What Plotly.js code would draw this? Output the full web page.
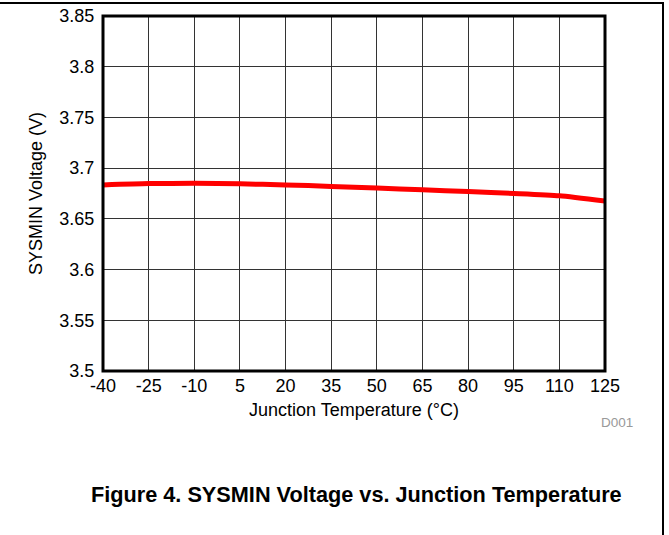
<!DOCTYPE html>
<html>
<head>
<meta charset="utf-8">
<script src="https://cdn.plot.ly/plotly-3.0.1.min.js"></script>
<style>
html,body{margin:0;padding:0;background:#fff;}
#chart{width:669px;height:535px;}
</style>
</head>
<body>
<div id="chart"></div>
<script>
var temperature = [-40, -25, -10, 5, 20, 35, 50, 65, 80, 95, 110, 125];
var sysminVoltage = [3.6835, 3.6848, 3.6850, 3.6845, 3.6835, 3.6820, 3.6803, 3.6786, 3.6769, 3.6751, 3.6728, 3.6675];
var xTicks = [-40, -25, -10, 5, 20, 35, 50, 65, 80, 95, 110, 125];
var xTickLabels = ['-40', '-25', '-10', '5', '20', '35', '50', '65', '80', '95', '110', '125'];
var yTicks = [3.5, 3.55, 3.6, 3.65, 3.7, 3.75, 3.8, 3.85];
var yTickLabels = ['3.5', '3.55', '3.6', '3.65', '3.7', '3.75', '3.8', '3.85'];

var font = 'Liberation Sans, Arial, sans-serif';
var L = 103, R = 605, T = 16, B = 371;
function px(x){ return (x - L) / (R - L); }
function py(y){ return (B - y) / (B - T); }

var trace = {
  x: temperature, y: sysminVoltage, type: 'scatter', mode: 'lines',
  line: {color: '#ff0000', width: 5, shape: 'spline', smoothing: 0.6},
  hoverinfo: 'skip'
};

var layout = {
  width: 669, height: 535,
  margin: {l: L, r: 669 - R, t: T, b: 535 - B, pad: 0},
  paper_bgcolor: '#ffffff', plot_bgcolor: '#ffffff',
  showlegend: false,
  font: {family: font, size: 18, color: '#000'},
  xaxis: {
    range: [-40, 125], tickmode: 'array', tickvals: xTicks, ticktext: xTickLabels,
    ticks: '', ticklabelstandoff: 2,
    showgrid: true, gridcolor: '#333', gridwidth: 1,
    zeroline: false, showline: false,
    tickfont: {family: font, size: 18, color: '#000'},
    title: {text: 'Junction Temperature (°C)', font: {family: font, size: 18, color: '#000'}, standoff: 8}
  },
  yaxis: {
    range: [3.5, 3.85], tickmode: 'array', tickvals: yTicks, ticktext: yTickLabels,
    ticks: 'outside', ticklen: 4, tickcolor: 'rgba(0,0,0,0)',
    showgrid: true, gridcolor: '#333', gridwidth: 1,
    zeroline: false, showline: false,
    tickfont: {family: font, size: 18, color: '#000'},
    title: {text: 'SYSMIN Voltage (V)', font: {family: font, size: 18, color: '#000'}, standoff: 12}
  },
  shapes: [
    {type: 'rect', xref: 'paper', yref: 'paper', x0: 0, x1: 1, y0: 0, y1: 1,
     line: {color: '#000', width: 3}, layer: 'above'},
    {type: 'line', xref: 'paper', yref: 'paper', x0: px(0), x1: px(664), y0: py(3), y1: py(3),
     line: {color: '#000', width: 2}},
    {type: 'line', xref: 'paper', yref: 'paper', x0: px(663), x1: px(663), y0: py(2), y1: py(535),
     line: {color: '#000', width: 2}}
  ],
  annotations: [
    {text: 'D001', xref: 'paper', yref: 'paper', x: px(617), y: py(422),
     xanchor: 'center', yanchor: 'middle', showarrow: false,
     font: {family: font, size: 13.5, color: '#999'}},
    {text: '<b>Figure 4. SYSMIN Voltage vs. Junction Temperature</b>', xref: 'paper', yref: 'paper',
     x: px(356), y: py(494), xanchor: 'center', yanchor: 'middle', showarrow: false,
     font: {family: font, size: 21.7, color: '#000'}}
  ]
};

Plotly.newPlot('chart', [trace], layout, {staticPlot: true, displayModeBar: false});
</script>
</body>
</html>
